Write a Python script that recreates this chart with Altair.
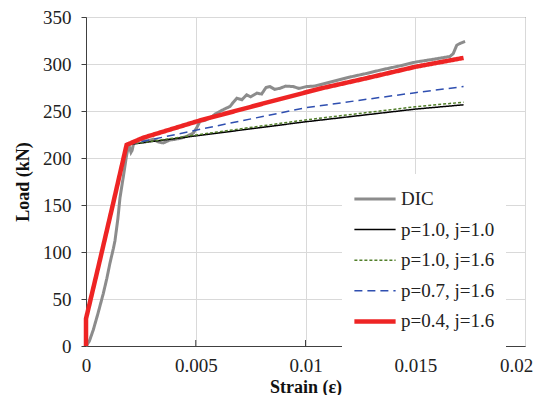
import altair as alt
import pandas as pd

series_names = ["DIC", "p=1.0, j=1.0", "p=1.0, j=1.6", "p=0.7, j=1.6", "p=0.4, j=1.6"]
series_colors = ["#8c8c8c", "#000000", "#527f2a", "#2f4fb0", "#ee2424"]
series_dash = [[1, 0], [1, 0], [3, 2], [8, 5], [1, 0]]
series_width = [3, 1.5, 1.5, 1.5, 4.5]

dic_strain = [0, 0.00015, 0.00033, 0.00055, 0.00079, 0.00095, 0.00109, 0.00125, 0.00132, 0.00145,
              0.00155, 0.0017, 0.00185, 0.00195, 0.00205, 0.0021, 0.00218, 0.00246, 0.0028, 0.00307,
              0.0033, 0.00352, 0.0038, 0.00398, 0.0043, 0.00459, 0.00489, 0.00504, 0.00519, 0.0054,
              0.00565, 0.0059, 0.0061, 0.0063, 0.00656, 0.0067, 0.00687, 0.0071, 0.00732, 0.0075,
              0.00778, 0.008, 0.0082, 0.00838, 0.0086, 0.00884, 0.0091, 0.00944, 0.0097, 0.01005,
              0.0104, 0.01066, 0.011, 0.0115, 0.012, 0.01279, 0.0135, 0.0143, 0.015, 0.01582,
              0.01658, 0.01673, 0.01689, 0.01705, 0.01727]
dic_load = [0, 5, 17, 35, 56, 72, 88, 104, 112, 135,
            158, 180, 203, 214, 206, 208, 217, 219.6, 218, 220,
            217, 216, 219, 219.6, 221, 223, 226.6, 232, 239, 240,
            242.5, 247, 249.5, 252, 254.8, 259, 263.6, 262, 267.2, 265,
            269, 268, 275, 276, 273, 274.2, 276.5, 276, 274, 276,
            276.5, 278, 280, 283, 286, 290, 294, 298, 302, 305,
            308, 311, 320, 322, 324]

m1_strain = [0, 0, 0.0006, 0.0012, 0.00185, 0.005, 0.01, 0.015, 0.0172]
m1_load = [0, 29, 88, 148, 214, 223.5, 238.5, 252, 256.6]

m2_strain = [0, 0, 0.0006, 0.0012, 0.00185, 0.005, 0.01, 0.015, 0.0172]
m2_load = [0, 29, 88, 148, 214, 224.5, 240.5, 254.5, 259.4]

m3_strain = [0, 0, 0.0006, 0.0012, 0.00185, 0.0052, 0.01, 0.015, 0.0172]
m3_load = [0, 29, 88, 148, 214, 230.5, 253.5, 269.5, 276]

m4_strain = [0, 0, 0.0006, 0.0012, 0.00185, 0.0026, 0.0052, 0.0084, 0.0107, 0.0128, 0.015, 0.0172]
m4_load = [0, 29, 88, 148, 214, 221.5, 240, 260, 274, 285, 297, 306.5]

x_ticks = [0, 0.005, 0.01, 0.015, 0.02]
y_ticks = [0, 50, 100, 150, 200, 250, 300, 350]
inner_ticks = [0.005, 0.01, 0.015]

rows = []
for name, xs, ys in zip(series_names,
                        [dic_strain, m1_strain, m2_strain, m3_strain, m4_strain],
                        [dic_load, m1_load, m2_load, m3_load, m4_load]):
    for i, (a, b) in enumerate(zip(xs, ys)):
        rows.append({"series": name, "strain": a, "load": b, "idx": i})
df = pd.DataFrame(rows)

FONT = "Liberation Serif"
W, H = 439, 329

xenc = alt.X("strain:Q", scale=alt.Scale(domain=[0, 0.02], nice=False),
             axis=alt.Axis(values=x_ticks, format="~g", ticks=False, title="Strain (ε)",
                           labelFlush=False, labelPadding=10, titlePadding=3,
                           labelOffset={"condition": {"test": "datum.value >= 0.02", "value": -9},
                                        "value": 0}))
yenc = alt.Y("load:Q", scale=alt.Scale(domain=[0, 350], nice=False),
             axis=alt.Axis(values=y_ticks, tickSize=5, title="Load (kN)",
                           labelPadding=10, titlePadding=10))
color = alt.Color("series:N", scale=alt.Scale(domain=series_names, range=series_colors),
                  legend=alt.Legend(title=None, orient="none", legendX=256, legendY=157,
                                    symbolType="stroke", symbolSize=1700,
                                    clipHeight=30, rowPadding=0.6,
                                    labelFont=FONT, labelFontSize=19, labelColor="#222",
                                    labelOffset=3, padding=10,
                                    fillColor="white", strokeColor="white"))
dash = alt.StrokeDash("series:N", scale=alt.Scale(domain=series_names, range=series_dash),
                      legend=alt.Legend(title=None))
width = alt.StrokeWidth("series:N",
                        scale=alt.Scale(type="ordinal", domain=series_names, range=series_width),
                        legend=alt.Legend(title=None))

layers = []
for name in series_names:
    layers.append(
        alt.Chart(df).transform_filter(alt.datum.series == name).mark_line().encode(
            x=xenc, y=yenc, color=color, strokeDash=dash, strokeWidth=width,
            order="idx:Q"
        )
    )

tick_df = pd.DataFrame({"t": inner_ticks})
ticks = alt.Chart(tick_df).mark_rule(color="#404040", strokeWidth=1).encode(
    x=alt.X("t:Q"), y=alt.value(H - 6), y2=alt.value(H)
)

chart = alt.layer(*layers, ticks).properties(
    width=W, height=H,
    autosize=alt.AutoSizeParams(type="none"),
    padding={"left": 78, "top": 9, "right": 10, "bottom": 49},
).configure_view(
    stroke="#404040", strokeWidth=1
).configure_axis(
    labelFont=FONT, labelFontSize=19, labelColor="#222",
    titleFont=FONT, titleFontSize=18, titleFontWeight="bold", titleColor="#111",
    domainColor="#404040", tickColor="#404040",
    gridColor="#d9d9d9", grid=True,
)

chart.save("out.html", embed_options={"renderer": "svg", "actions": False})
